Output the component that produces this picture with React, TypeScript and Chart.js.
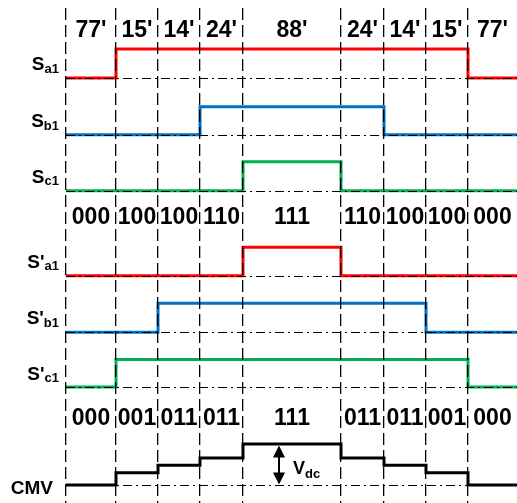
import React, { useEffect, useRef } from "react";
import { Chart, registerables } from "chart.js";

Chart.register(...registerables);

// ---- data ----
const SEGMENT_LABELS = ["77'", "15'", "14'", "24'", "88'", "24'", "14'", "15'", "77'"];
const BOUNDARIES = [0, 50, 92, 134, 177, 275, 318, 360, 402, 451];
const SA1 = [0, 1, 1, 1, 1, 1, 1, 1, 0];
const SB1 = [0, 0, 0, 1, 1, 1, 0, 0, 0];
const SC1 = [0, 0, 0, 0, 1, 0, 0, 0, 0];
const SPA1 = [0, 0, 0, 0, 1, 0, 0, 0, 0];
const SPB1 = [0, 0, 1, 1, 1, 1, 1, 0, 0];
const SPC1 = [0, 1, 1, 1, 1, 1, 1, 1, 0];
const CMV = [0, 0.3, 0.48, 0.66, 1, 0.66, 0.48, 0.3, 0];
const STATES_1 = ["000", "100", "100", "110", "111", "110", "100", "100", "000"];
const STATES_2 = ["000", "001", "011", "011", "111", "011", "011", "001", "000"];

const FONT = '"Liberation Sans", Arial, Helvetica, sans-serif';

type Row = { main: string; sub: string; values: number[]; color: string; base: number; amp: number };

const ROWS: Row[] = [
  { main: "S", sub: "a1", values: SA1, color: "#FF0000", base: 78, amp: 29 },
  { main: "S", sub: "b1", values: SB1, color: "#0070C0", base: 134.7, amp: 28 },
  { main: "S", sub: "c1", values: SC1, color: "#00B050", base: 190.7, amp: 29 },
  { main: "S'", sub: "a1", values: SPA1, color: "#FF0000", base: 275.7, amp: 28.5 },
  { main: "S'", sub: "b1", values: SPB1, color: "#0070C0", base: 332.2, amp: 29 },
  { main: "S'", sub: "c1", values: SPC1, color: "#00B050", base: 387, amp: 27.5 },
  { main: "CMV", sub: "", values: CMV, color: "#000000", base: 485, amp: 41 },
];

function stepPoints(values: number[], base: number, amp: number) {
  const pts = values.map((v, i) => ({ x: BOUNDARIES[i], y: base - v * amp }));
  pts.push({ x: BOUNDARIES[BOUNDARIES.length - 1], y: base - values[values.length - 1] * amp });
  return pts;
}

const overlayPlugin = {
  id: "overlay",
  afterDatasetsDraw(chart: any) {
    const ctx = chart.ctx;
    const xs = chart.scales.x;
    const ys = chart.scales.y;
    const x0 = xs.getPixelForValue(BOUNDARIES[0]);
    const x1 = xs.getPixelForValue(BOUNDARIES[BOUNDARIES.length - 1]);
    ctx.save();
    ctx.strokeStyle = "#000";
    ctx.lineWidth = 1;
    ctx.setLineDash([9, 4, 2, 4]);
    ROWS.forEach((r) => {
      const y = Math.round(ys.getPixelForValue(r.base)) + 0.5;
      ctx.beginPath();
      ctx.moveTo(x0, y);
      ctx.lineTo(x1, y);
      ctx.stroke();
    });
    ctx.restore();
  },
  afterDraw(chart: any) {
    const ctx = chart.ctx;
    const xs = chart.scales.x;
    const ys = chart.scales.y;
    const segCenter = (i: number) =>
      (xs.getPixelForValue(BOUNDARIES[i]) + xs.getPixelForValue(BOUNDARIES[i + 1])) / 2;
    ctx.save();
    ctx.fillStyle = "#000";
    ctx.textAlign = "center";
    ctx.textBaseline = "alphabetic";
    ctx.font = `bold 23px ${FONT}`;
    SEGMENT_LABELS.forEach((t, i) => ctx.fillText(t, segCenter(i), 37));
    STATES_1.forEach((t, i) => ctx.fillText(t, segCenter(i), 223.5));
    STATES_2.forEach((t, i) => ctx.fillText(t, segCenter(i), 425));

    // signal names
    ROWS.forEach((r) => {
      if (r.main === "CMV") {
        ctx.font = `bold 19px ${FONT}`;
        ctx.textAlign = "right";
        ctx.fillText("CMV", 53, 494);
        return;
      }
      const mid = ys.getPixelForValue(r.base - r.amp / 2);
      ctx.textAlign = "right";
      ctx.font = `bold 13px ${FONT}`;
      const subW = ctx.measureText(r.sub).width;
      ctx.fillText(r.sub, 59, mid + 9);
      ctx.font = `bold 19px ${FONT}`;
      ctx.fillText(r.main, 59 - subW, mid + 6.5);
    });

    // Vdc arrow
    const cmv = ROWS[6];
    const ax = Math.round(xs.getPixelForValue(BOUNDARIES[4])) + 36;
    const yTop = ys.getPixelForValue(cmv.base - cmv.amp) + 1.5;
    const yBot = ys.getPixelForValue(cmv.base) - 0.5;
    const ah = 12;
    const aw = 6;
    ctx.strokeStyle = "#000";
    ctx.lineWidth = 2;
    ctx.beginPath();
    ctx.moveTo(ax, yTop + ah - 1);
    ctx.lineTo(ax, yBot - ah + 1);
    ctx.stroke();
    ctx.beginPath();
    ctx.moveTo(ax, yTop);
    ctx.lineTo(ax - aw, yTop + ah);
    ctx.lineTo(ax + aw, yTop + ah);
    ctx.closePath();
    ctx.fill();
    ctx.beginPath();
    ctx.moveTo(ax, yBot);
    ctx.lineTo(ax - aw, yBot - ah);
    ctx.lineTo(ax + aw, yBot - ah);
    ctx.closePath();
    ctx.fill();

    ctx.textAlign = "left";
    ctx.font = `bold 18px ${FONT}`;
    ctx.fillText("V", ax + 14, 474);
    const vW = ctx.measureText("V").width;
    ctx.font = `bold 13px ${FONT}`;
    ctx.fillText("dc", ax + 14 + vW, 478);
    ctx.restore();
  },
};

export default function App() {
  const ref = useRef<HTMLCanvasElement | null>(null);
  useEffect(() => {
    if (!ref.current) return;
    const chart = new Chart(ref.current, {
      type: "line",
      data: {
        datasets: ROWS.map((r) => ({
          label: r.main + r.sub,
          data: stepPoints(r.values, r.base, r.amp),
          borderColor: r.color,
          backgroundColor: r.color,
          borderWidth: 3,
          stepped: true,
          pointRadius: 0,
          fill: false,
          clip: false,
          borderJoinStyle: "miter",
          borderCapStyle: "butt",
        })) as any,
      },
      options: {
        animation: false,
        responsive: false,
        devicePixelRatio: 1,
        events: [],
        layout: { padding: { left: 66, top: 8, right: 0, bottom: 0 } },
        plugins: { legend: { display: false }, tooltip: { enabled: false } },
        scales: {
          x: {
            type: "linear",
            min: BOUNDARIES[0],
            max: BOUNDARIES[BOUNDARIES.length - 1],
            afterBuildTicks: (axis: any) => {
              axis.ticks = BOUNDARIES.slice(0, BOUNDARIES.length - 1).map((v) => ({ value: v }));
            },
            ticks: { display: false },
            grid: { display: true, color: "#000", lineWidth: 1.3, drawTicks: false, z: 1 },
            border: { display: false, dash: [12, 5] },
          },
          y: {
            type: "linear",
            display: false,
            reverse: true,
            min: 8,
            max: 503,
          },
        },
      } as any,
      plugins: [overlayPlugin],
    });
    return () => chart.destroy();
  }, []);
  return (
    <div style={{ position: "fixed", left: 0, top: 0, width: 517, height: 503, background: "#fff" }}>
      <canvas ref={ref} width={517} height={503} style={{ width: 517, height: 503, display: "block" }} />
    </div>
  );
}
